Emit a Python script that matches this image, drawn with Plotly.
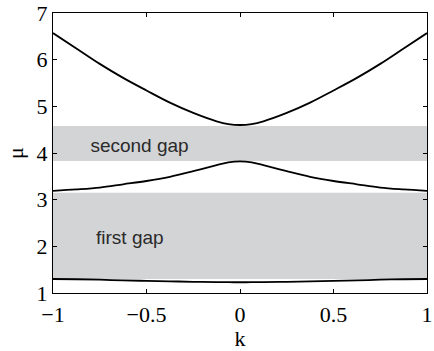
import plotly.graph_objects as go

# wavenumber samples
k = [-1.0, -0.875, -0.75, -0.625, -0.5, -0.375, -0.25, -0.125, -0.0625, 0.0,
     0.0625, 0.125, 0.25, 0.375, 0.5, 0.625, 0.75, 0.875, 1.0]

# band curves mu(k)
band1 = [1.30, 1.295, 1.285, 1.27, 1.26, 1.25, 1.24, 1.235, 1.232, 1.23,
         1.232, 1.235, 1.24, 1.25, 1.26, 1.27, 1.285, 1.295, 1.30]
band2 = [3.19, 3.22, 3.26, 3.33, 3.40, 3.49, 3.61, 3.74, 3.80, 3.82,
         3.80, 3.74, 3.61, 3.49, 3.40, 3.33, 3.26, 3.22, 3.19]
band3 = [6.57, 6.24, 5.91, 5.61, 5.34, 5.08, 4.86, 4.68, 4.62, 4.60,
         4.62, 4.68, 4.86, 5.08, 5.34, 5.61, 5.91, 6.24, 6.57]

# gaps (lower, upper) and their labels
gap_names = ["first gap", "second gap"]
gap_lo = [1.30, 3.83]
gap_hi = [3.15, 4.58]
gap_label_k = [-0.77, -0.80]
gap_label_mu = [2.15, 4.13]

x_ticks = [-1, -0.5, 0, 0.5, 1]
x_ticktext = ["\u22121", "\u22120.5", "0", "0.5", "1"]
y_ticks = [1, 2, 3, 4, 5, 6, 7]

SERIF = "Liberation Serif"
SANS = "Liberation Sans"
GRAY = "rgb(211,212,214)"
fig = go.Figure()

kmin, kmax = min(k), max(k)
for lo, hi in zip(gap_lo, gap_hi):
    fig.add_trace(go.Scatter(
        x=[kmin, kmax, kmax, kmin, kmin], y=[lo, lo, hi, hi, lo],
        mode="lines", fill="toself", fillcolor=GRAY,
        line=dict(width=0, color=GRAY), hoverinfo="skip", showlegend=False))

for b in (band1, band2, band3):
    fig.add_trace(go.Scatter(
        x=k, y=b, mode="lines", line=dict(color="black", width=1.8, shape="spline"),
        showlegend=False))

fig.add_trace(go.Scatter(
    x=gap_label_k, y=gap_label_mu, mode="text", text=gap_names,
    textposition="middle right",
    textfont=dict(family=SANS, size=19, color="#2a2a2a"),
    showlegend=False, hoverinfo="skip"))

axis_common = dict(
    showline=True, linecolor="black", linewidth=1, mirror="ticks",
    ticks="inside", ticklen=4, tickwidth=1, tickcolor="black",
    showgrid=False, zeroline=False, ticklabeloverflow="allow",
    tickfont=dict(family=SERIF, size=22, color="black"),
)

fig.update_layout(
    width=434, height=351,
    margin=dict(l=53, r=1, t=11, b=58),
    paper_bgcolor="white", plot_bgcolor="white",
    xaxis=dict(range=[-1, 1], tickvals=x_ticks, ticktext=x_ticktext,
               ticklabelstandoff=2,
               title=dict(text="k", standoff=3,
                          font=dict(family=SERIF, size=22, color="black")),
               **axis_common),
    yaxis=dict(range=[1, 7], tickvals=y_ticks,
               title=dict(text="\u03bc", standoff=6,
                          font=dict(family=SERIF, size=22, color="black")),
               **axis_common),
)

fig.write_html("out.html")
